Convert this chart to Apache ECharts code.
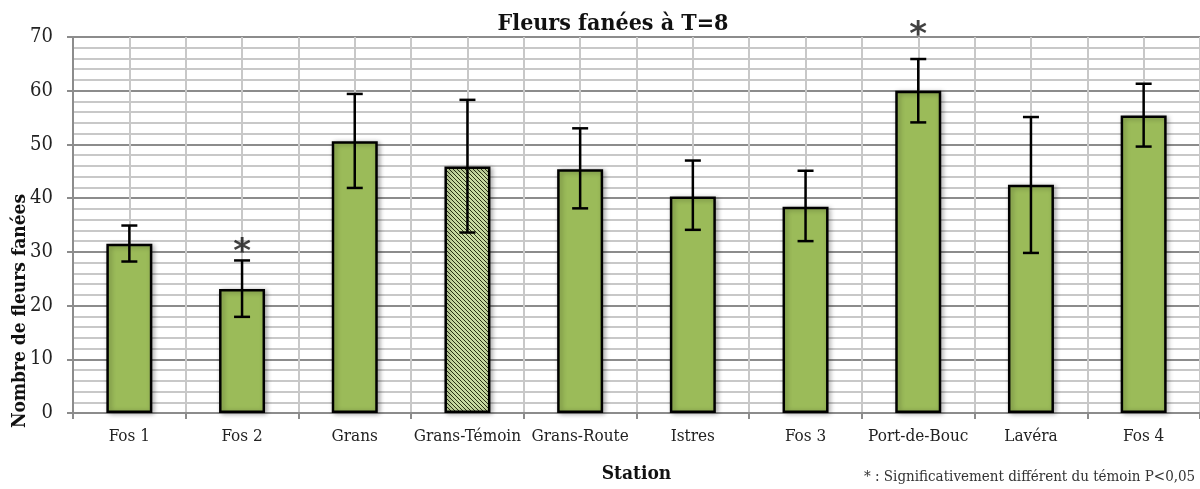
<!DOCTYPE html>
<html>
<head>
<meta charset="utf-8">
<script src="https://cdn.jsdelivr.net/npm/echarts@6/dist/echarts.min.js"></script>
<style>
  html, body { margin: 0; padding: 0; background: #fff; }
  #chart { width: 1200px; height: 489px; }
</style>
</head>
<body>
<div id="chart"></div>
<script>
// stations
const stations = ["Fos 1", "Fos 2", "Grans", "Grans-Témoin", "Grans-Route", "Istres", "Fos 3", "Port-de-Bouc", "Lavéra", "Fos 4"];
// mean number of faded flowers
const means = [31.5, 23.1, 50.6, 45.9, 45.4, 40.3, 38.4, 60.0, 42.5, 55.4];
// error bar ends
const upper = [34.9, 28.4, 59.4, 58.3, 53.0, 47.0, 45.1, 65.9, 55.1, 61.3];
const lower = [28.2, 17.9, 41.9, 33.6, 38.1, 34.1, 32.0, 54.1, 29.8, 49.6];
// asterisk position (significant vs control), null = none
const starY = [null, 31.2, null, null, null, null, null, 71.6, null, null];
const controlIndex = 3;

const FONT = "'DejaVu Serif Condensed', 'DejaVu Serif', serif";

// hatch pattern for the control bar
const hatch = document.createElement("canvas");
hatch.width = 4;
hatch.height = 4;
(function () {
  const c = hatch.getContext("2d");
  c.fillStyle = "#c6d9a0";
  c.fillRect(0, 0, 4, 4);
  c.fillStyle = "#2a3315";
  for (let i = 0; i < 4; i++) c.fillRect(i, i, 1, 1);
})();

const chart = echarts.init(document.getElementById("chart"));

const barData = means.map((v, i) => {
  if (i !== controlIndex) return v;
  return { value: v, itemStyle: { color: { image: hatch, repeat: "repeat" } } };
});

const option = {
  animation: false,
  title: {
    text: "Fleurs fanées à T=8",
    left: 608,
    top: 8,
    textAlign: "center",
    textStyle: { fontFamily: FONT, fontSize: 23, fontWeight: "bold", color: "#111" }
  },
  graphic: [
    {
      type: "text",
      x: 20,
      y: 311,
      rotation: Math.PI / 2,
      style: {
        text: "Nombre de fleurs fanées",
        fontFamily: FONT,
        fontSize: 19,
        fontWeight: "bold",
        fill: "#111",
        align: "center",
        verticalAlign: "middle"
      }
    },
    {
      type: "text",
      left: 864,
      top: 470,
      style: {
        text: "* : Significativement différent du témoin P<0,05",
        fontFamily: FONT,
        fontSize: 15,
        fill: "#333"
      }
    }
  ],
  grid: { left: 73, right: 0, top: 37, bottom: 76, containLabel: false, outerBoundsMode: "none" },
  xAxis: [
    {
      type: "category",
      data: stations,
      name: "Station",
      nameLocation: "middle",
      nameGap: 52,
      nameTextStyle: { fontFamily: FONT, fontSize: 19, fontWeight: "bold", color: "#111" },
      axisLine: { lineStyle: { color: "#8c8c8c", width: 2 } },
      axisTick: { show: true, length: 6, lineStyle: { color: "#8c8c8c", width: 2 } },
      axisLabel: { fontFamily: FONT, fontSize: 17, color: "#222", margin: 15, interval: 0 },
      splitLine: { show: false }
    },
    {
      type: "value",
      min: -0.5,
      max: 9.5,
      interval: 0.5,
      show: true,
      position: "top",
      axisLine: { show: false },
      axisTick: { show: false },
      axisLabel: { show: false },
      splitLine: { show: true, lineStyle: { color: "#c8c8c8", width: 2 } }
    }
  ],
  yAxis: {
    type: "value",
    min: 0,
    max: 70,
    interval: 10,
    axisLine: { show: true, onZero: false, lineStyle: { color: "#8c8c8c", width: 2 } },
    axisTick: { show: true, length: 6, lineStyle: { color: "#8c8c8c", width: 2 } },
    axisLabel: { fontFamily: FONT, fontSize: 20, color: "#222", margin: 20 },
    splitLine: { show: true, lineStyle: { color: "#8c8c8c", width: 2 } },
    minorTick: { show: false, splitNumber: 5 },
    minorSplitLine: { show: true, lineStyle: { color: "#c8c8c8", width: 2 } }
  },
  series: [
    {
      type: "bar",
      xAxisIndex: 0,
      data: barData,
      barWidth: 46,
      itemStyle: {
        color: "#9bbb59",
        borderColor: "#000",
        borderWidth: 2.5,
        shadowBlur: 5,
        shadowColor: "rgba(0,0,0,0.3)",
        shadowOffsetX: 2,
        shadowOffsetY: 1
      },
      z: 3
    },
    {
      type: "custom",
      xAxisIndex: 0,
      data: stations.map((s, i) => [i, lower[i], upper[i]]),
      renderItem: function (params, api) {
        const x = api.coord([api.value(0), 0])[0];
        const yl = api.coord([api.value(0), api.value(1)])[1];
        const yh = api.coord([api.value(0), api.value(2)])[1];
        const cap = 8;
        const st = { stroke: "#000", lineWidth: 2.5 };
        return {
          type: "group",
          children: [
            { type: "line", shape: { x1: x, y1: yl, x2: x, y2: yh }, style: st },
            { type: "line", shape: { x1: x - cap, y1: yh, x2: x + cap, y2: yh }, style: st },
            { type: "line", shape: { x1: x - cap, y1: yl, x2: x + cap, y2: yl }, style: st }
          ]
        };
      },
      z: 5
    },
    {
      type: "scatter",
      xAxisIndex: 0,
      data: starY.map((v, i) => (v === null ? null : [i, v])),
      symbolSize: 1,
      itemStyle: { color: "rgba(0,0,0,0)" },
      clip: false,
      label: {
        show: true,
        position: "inside",
        formatter: "*",
        fontFamily: "'DejaVu Sans', sans-serif",
        fontWeight: "bold",
        fontSize: 34,
        color: "#111",
        offset: [0, 8]
      },
      z: 6
    }
  ]
};

chart.setOption(option);
</script>
</body>
</html>
